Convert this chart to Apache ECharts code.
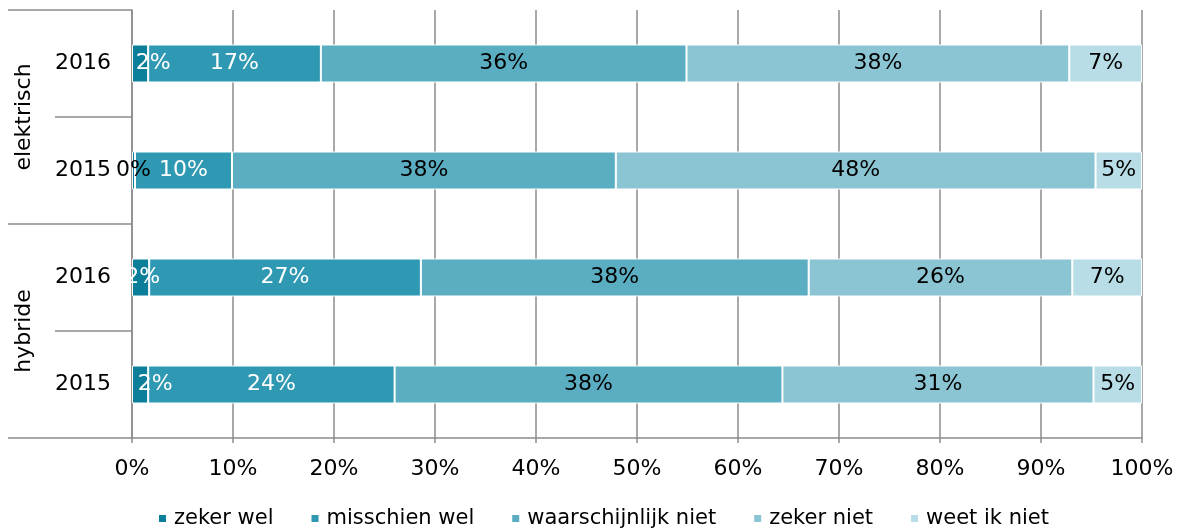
<!DOCTYPE html>
<html>
<head>
<meta charset="utf-8">
<script src="https://cdn.jsdelivr.net/npm/echarts@6/dist/echarts.min.js"></script>
<style>html,body{margin:0;padding:0;background:#fff}#c{width:1182px;height:532px}</style>
</head>
<body>
<div id="c"></div>
<script>
var groups = ['elektrisch', 'hybride'];
var rowKeys = ['elektrisch|2016', 'elektrisch|2015', 'hybride|2016', 'hybride|2015'];
var seriesNames = ['zeker wel', 'misschien wel', 'waarschijnlijk niet', 'zeker niet', 'weet ik niet'];
var zekerWel = [1.6, 0.3, 1.7, 1.6];
var misschienWel = [17.1, 9.6, 26.9, 24.4];
var waarschijnlijkNiet = [36.2, 38.0, 38.4, 38.4];
var zekerNiet = [37.9, 47.5, 26.1, 30.8];
var weetIkNiet = [7.2, 4.6, 6.9, 4.8];
var xTicks = [0, 10, 20, 30, 40, 50, 60, 70, 80, 90, 100];

var colors = ['#0b7e99', '#2f98b2', '#5badc2', '#8bc5d3', '#b8dde6'];
var labelColors = ['#ffffff', '#ffffff', '#000000', '#000000', '#000000'];
var values = [zekerWel, misschienWel, waarschijnlijkNiet, zekerNiet, weetIkNiet];
// label nudges for the first (tiny) segment, as in the source picture
var firstLabelShift = [13, 0, 2, 15];
var FONT = 'DejaVu Sans';
var FS = 22;

var series = seriesNames.map(function (name, i) {
  return {
    name: name,
    type: 'bar',
    stack: 'total',
    barWidth: 38,
    yAxisIndex: 0,
    itemStyle: { color: colors[i], borderColor: '#ffffff', borderWidth: 1 },
    label: {
      show: true,
      position: 'inside',
      fontFamily: FONT,
      fontSize: FS,
      formatter: function (p) { return Math.round(p.value) + '%'; }
    },
    data: values[i].map(function (v, j) {
      var c = labelColors[i];
      if (Math.round(v) === 0) c = '#000000';
      var lbl = { color: c };
      if (i === 0) lbl.offset = [firstLabelShift[j], 0];
      return { value: v, label: lbl };
    }),
    emphasis: { disabled: true }
  };
});

var chart = echarts.init(document.getElementById('c'), null, { renderer: 'canvas' });
chart.setOption({
  animation: false,
  textStyle: { fontFamily: FONT },
  legend: {
    data: seriesNames,
    left: 159,
    top: 508,
    padding: 0,
    icon: 'rect',
    itemWidth: 7,
    itemHeight: 7,
    itemGap: 38,
    itemStyle: { borderWidth: 0 },
    textStyle: { fontFamily: FONT, fontSize: 21, color: '#000', padding: [0, 0, 0, 3] }
  },
  grid: { left: 132, right: 40, top: 10, bottom: 94, containLabel: false },
  xAxis: {
    type: 'value',
    min: xTicks[0],
    max: xTicks[xTicks.length - 1],
    interval: 10,
    axisLine: { show: true, lineStyle: { color: '#8c8c8c', width: 1.5 } },
    axisTick: { show: true, length: 5, lineStyle: { color: '#8c8c8c', width: 1.5 } },
    splitLine: { show: true, lineStyle: { color: '#8c8c8c', width: 1.5 } },
    axisLabel: { fontFamily: FONT, fontSize: FS, color: '#000', margin: 20, formatter: '{value}%' }
  },
  yAxis: [
    {
      type: 'category',
      inverse: true,
      data: rowKeys,
      position: 'left',
      axisLine: { show: true, lineStyle: { color: '#8c8c8c', width: 1.5 } },
      axisTick: { show: true, length: 77, lineStyle: { color: '#8c8c8c', width: 1.5 } },
      splitLine: { show: false },
      axisLabel: {
        fontFamily: FONT, fontSize: FS, color: '#000', margin: 21,
        formatter: function (v) { return v.split('|')[1]; }
      }
    },
    {
      type: 'category',
      inverse: true,
      data: groups,
      position: 'left',
      offset: 0,
      axisLine: { show: false },
      axisTick: { show: true, length: 124, lineStyle: { color: '#8c8c8c', width: 1.5 } },
      splitLine: { show: false },
      axisLabel: { fontFamily: FONT, fontSize: FS, color: '#000', rotate: 90, margin: 97 }
    }
  ],
  series: series
});
</script>
</body>
</html>
